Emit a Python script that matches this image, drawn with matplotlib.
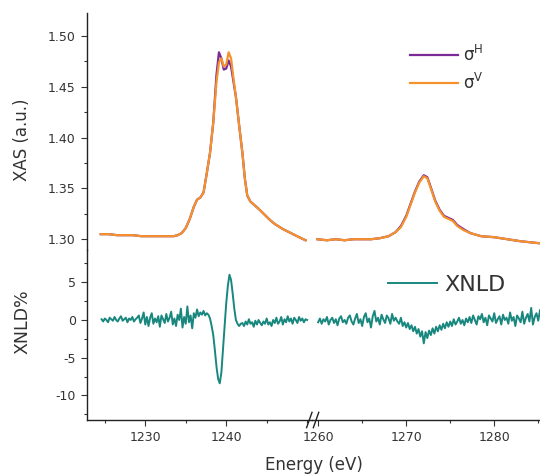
import matplotlib
matplotlib.use('Agg')
import matplotlib.pyplot as plt
from matplotlib.ticker import MultipleLocator, FormatStrFormatter
import numpy as np

plt.rcParams['axes.unicode_minus'] = False

# XAS, left part (energy in eV)
xas_e_left = [1224.5, 1225.5, 1226.5, 1227.5, 1228.5, 1229.5, 1230.5, 1231.5, 1232.5, 1233.5,
              1234.0, 1234.5, 1235.0, 1235.5, 1236.0, 1236.4, 1236.8, 1237.2, 1237.6, 1238.0,
              1238.4, 1238.8, 1239.1, 1239.4, 1239.7, 1240.0, 1240.3, 1240.6, 1240.9, 1241.2,
              1241.6, 1242.0, 1242.3, 1242.6, 1243.0, 1244.0, 1245.4, 1246.0, 1247.0, 1248.0,
              1249.0, 1249.8]
sigma_h_left = [1.305, 1.305, 1.304, 1.304, 1.304, 1.303, 1.303, 1.303, 1.303, 1.303,
                1.304, 1.306, 1.311, 1.320, 1.332, 1.339, 1.341, 1.346, 1.365, 1.385,
                1.415, 1.462, 1.484, 1.478, 1.467, 1.468, 1.476, 1.470, 1.455, 1.440,
                1.412, 1.385, 1.360, 1.343, 1.337, 1.330, 1.319, 1.315, 1.310, 1.306,
                1.302, 1.299]
sigma_v_left = [1.305, 1.305, 1.304, 1.304, 1.304, 1.303, 1.303, 1.303, 1.303, 1.303,
                1.304, 1.306, 1.311, 1.320, 1.332, 1.339, 1.341, 1.346, 1.365, 1.385,
                1.415, 1.455, 1.474, 1.478, 1.470, 1.472, 1.484, 1.478, 1.458, 1.440,
                1.412, 1.385, 1.360, 1.343, 1.337, 1.330, 1.319, 1.315, 1.310, 1.306,
                1.302, 1.299]

# XAS, right part
xas_e_right = [1259.9, 1261.0, 1262.0, 1263.0, 1264.0, 1265.0, 1266.0, 1267.0, 1268.0, 1268.8,
               1269.4, 1270.0, 1270.5, 1271.0, 1271.5, 1272.0, 1272.4, 1272.8, 1273.3, 1273.8,
               1274.3, 1274.8, 1275.3, 1275.8, 1276.5, 1277.3, 1278.5, 1280.0, 1281.5, 1283.0,
               1285.2]
sigma_h_right = [1.300, 1.299, 1.300, 1.299, 1.300, 1.300, 1.300, 1.301, 1.303, 1.307,
                 1.313, 1.323, 1.335, 1.347, 1.357, 1.363, 1.361, 1.351, 1.338, 1.329,
                 1.323, 1.321, 1.319, 1.314, 1.310, 1.306, 1.303, 1.302, 1.300, 1.298,
                 1.296]
sigma_v_right = [1.300, 1.299, 1.300, 1.299, 1.300, 1.300, 1.300, 1.301, 1.303, 1.307,
                 1.312, 1.322, 1.334, 1.346, 1.356, 1.362, 1.360, 1.350, 1.337, 1.328,
                 1.322, 1.320, 1.318, 1.313, 1.309, 1.306, 1.303, 1.302, 1.300, 1.298,
                 1.296]

# XNLD %, 0.2 eV steps
xnld_start_left = 1224.6
xnld_left = [0.1, -0.2, 0.2, 0.0, -0.3, 0.3, 0.1, -0.1, 0.4, 0.0,
             -0.2, 0.2, 0.5, -0.1, 0.1, 0.3, -0.3, 0.2, 0.0, 0.4,
             -0.2, 0.1, 0.3, 0.6, -0.4, 0.2, 1.0, -0.6,
             0.4, -0.8, 0.3, 0.9, -0.5, 0.2, -0.3, 0.5, -0.9, 0.6,
             0.1, -0.4, 0.8, -0.2, 0.3, 1.1, -0.6, 0.2, -0.8, 0.7,
             0.0, 1.5, -1.0, 0.4, -0.5, 1.8, -0.3, 0.6, -1.1, 0.9,
             0.3, 1.4, 0.5, 1.0, 0.7, 1.2, 0.6, 0.9,
             0.7, 0.2, -0.8, -2.0, -4.0, -6.2, -7.8, -8.4, -7.0, -4.0,
             -0.8, 2.2, 4.5, 6.0, 5.3, 3.5, 1.5, 0.0, -0.5, -0.8, -0.5,
             -0.4, -0.8, -0.2, -0.6, 0.1, -0.5, -0.3, -0.9, -0.1, -0.6,
             0.0, -0.4, -0.7, -0.2, -0.5, 0.2, -0.6, -0.3, -0.8, 0.0,
             -0.4, 0.3, -0.5, -0.2, 0.4, -0.6, 0.1, -0.3, 0.5, -0.2,
             0.2, -0.5, 0.3, 0.0, -0.4, 0.4, -0.1, 0.2, -0.3, 0.1, 0.0]
xnld_start_right = 1260.0
xnld_right = [-0.3, 0.2, -0.5, 0.1, -0.2, 0.4, -0.6, 0.0, 0.3, -0.4,
              0.1, -0.7, 0.2, 0.5, -0.3, 0.0, -0.5, 0.3, 0.6, -0.2,
              -0.6, 0.2, 0.8, -0.4, 0.1, -0.8, 0.4, 0.9, -0.3, 0.2,
              -1.0, 0.5, 1.2, -0.2, 0.3, -0.6, 0.7, 0.1, -0.4, 0.6,
              0.2, -0.5, 0.8, -0.1, 0.3,
              -0.2, -0.5, 0.3, -0.8, -0.3, -1.0, -0.4, -1.2, -0.7, -1.5,
              -0.9, -1.8, -1.2, -2.2, -1.5, -3.1, -1.6, -2.4, -1.4, -2.0,
              -1.1, -1.8, -0.9, -1.5, -0.7, -1.3, -0.5, -1.1, -0.3, -0.9,
              -0.2, -0.8, 0.1, -0.6, -0.2, 0.3, -0.5, 0.0, -0.7, 0.2, -0.3,
              0.4, -0.4, 0.6, 0.0, -0.6, 0.5, 0.1, 0.8, -0.3, 0.3,
              -0.7, 0.6, 0.2, -0.2, 0.9, -0.4, 0.1, 0.5, -0.6, 0.7,
              0.0, 0.3, -0.5, 1.0, -0.1, 0.4, -0.8, 0.6, 0.2, -0.3,
              1.1, -0.5, 0.3, 0.8, -0.2, 1.6, -0.6, 0.4, 0.9, -0.1, 1.3]
xnld_step = 0.2

left_xticks = [1230, 1240]
right_xticks = [1260, 1270, 1280]
xas_yticks = [1.30, 1.35, 1.40, 1.45, 1.50]
xnld_yticks = [-10, -5, 0, 5]

e_xnld_left = xnld_start_left + xnld_step * np.arange(len(xnld_left))
e_xnld_right = xnld_start_right + xnld_step * np.arange(len(xnld_right))

purple = '#7a2b98'
orange = '#f5922c'
teal = '#18877e'
txt = '#333333'

W, H = 540, 475
fig = plt.figure(figsize=(W / 100, H / 100), dpi=100)


def rect(x0, y0, x1, y1):
    return [x0 / W, 1 - y1 / H, (x1 - x0) / W, (y1 - y0) / H]


ax_ul = fig.add_axes(rect(87, 13, 312, 250))
ax_ur = fig.add_axes(rect(312, 13, 540, 250))
ax_ll = fig.add_axes(rect(87, 250, 312, 420))
ax_lr = fig.add_axes(rect(312, 250, 540, 420))

left_xlim = (1222.8, 1250.6)
right_xlim = (1259.3, 1285.2)
for ax in (ax_ul, ax_ll):
    ax.set_xlim(*left_xlim)
for ax in (ax_ur, ax_lr):
    ax.set_xlim(*right_xlim)
for ax in (ax_ul, ax_ur):
    ax.set_ylim(1.2894, 1.5227)
for ax in (ax_ll, ax_lr):
    ax.set_ylim(-13.26, 9.28)

for ax in (ax_ul, ax_ur, ax_ll, ax_lr):
    ax.patch.set_alpha(0)
    for s in ('top', 'right'):
        ax.spines[s].set_visible(False)
    ax.tick_params(which='both', direction='out', colors=txt, labelsize=9, width=0.8)
    ax.tick_params(which='major', length=4.5)
    ax.tick_params(which='minor', length=2.5)

# upper panels: no x axis
for ax in (ax_ul, ax_ur):
    ax.spines['bottom'].set_visible(False)
    ax.tick_params(axis='x', which='both', bottom=False, labelbottom=False)
# right panels: no y axis
for ax in (ax_ur, ax_lr):
    ax.spines['left'].set_visible(False)
    ax.tick_params(axis='y', which='both', left=False, labelleft=False)

ax_ul.set_yticks(xas_yticks)
ax_ul.yaxis.set_minor_locator(MultipleLocator(0.025))
ax_ul.yaxis.set_major_formatter(FormatStrFormatter('%.2f'))
ax_ll.set_yticks(xnld_yticks)
ax_ll.yaxis.set_minor_locator(MultipleLocator(2.5))

ax_ll.set_xticks(left_xticks)
ax_lr.set_xticks(right_xticks)
for ax in (ax_ll, ax_lr):
    ax.xaxis.set_minor_locator(MultipleLocator(5))

for ax in (ax_ul, ax_ur, ax_ll, ax_lr):
    for sp in ax.spines.values():
        sp.set_color('#222222')
        sp.set_linewidth(1.0)

# data
ax_ul.plot(xas_e_left, sigma_h_left, color=purple, lw=1.6)
ax_ul.plot(xas_e_left, sigma_v_left, color=orange, lw=1.6)
ax_ur.plot(xas_e_right, sigma_h_right, color=purple, lw=1.6, label='σ$^{\\mathrm{H}}$')
ax_ur.plot(xas_e_right, sigma_v_right, color=orange, lw=1.6, label='σ$^{\\mathrm{V}}$')
ax_ll.plot(e_xnld_left, xnld_left, color=teal, lw=1.4)
ax_lr.plot(e_xnld_right, xnld_right, color=teal, lw=1.4, label='XNLD')

leg1 = ax_ur.legend(loc='upper left', bbox_to_anchor=(0.40, 0.895), frameon=False,
                    fontsize=12, handlelength=2.9, handletextpad=0.3, labelspacing=0.5,
                    borderaxespad=0)
for t in leg1.get_texts():
    t.set_color(txt)
leg2 = ax_lr.legend(loc='center left', bbox_to_anchor=(0.333, 0.794), frameon=False,
                    fontsize=16, handlelength=2.2, handletextpad=0.35, borderaxespad=0,
                    borderpad=0)
for t in leg2.get_texts():
    t.set_color(txt)

# axis break marks on the energy axis
for dx in (-0.012, 0.018):
    ax_ll.plot([1 + dx - 0.012, 1 + dx + 0.012], [-0.045, 0.045], color='#222222',
               lw=1.0, transform=ax_ll.transAxes, clip_on=False)

fig.text(22 / W, 1 - 140 / H, 'XAS (a.u.)', rotation=90, ha='center', va='center',
         fontsize=12, color=txt)
fig.text(22 / W, 1 - 322 / H, 'XNLD%', rotation=90, ha='center', va='center',
         fontsize=12.5, color=txt)
fig.text(314 / W, 1 - 465 / H, 'Energy (eV)', ha='center', va='center',
         fontsize=12, color=txt)

fig.savefig('out.png', dpi=100)
